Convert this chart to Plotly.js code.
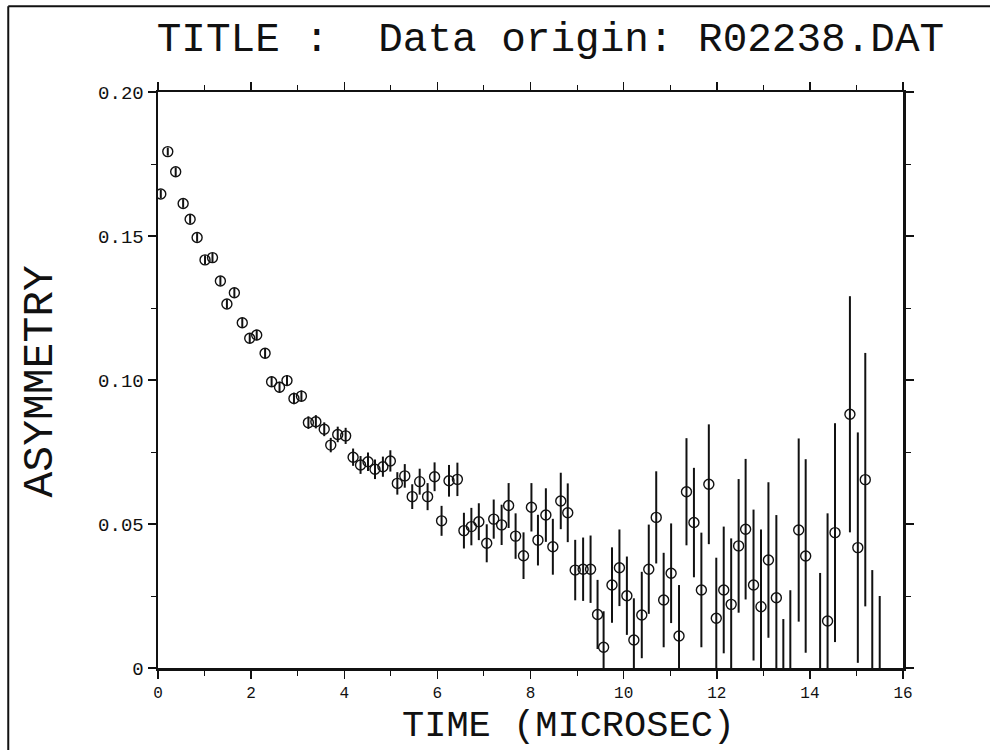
<!DOCTYPE html>
<html>
<head>
<meta charset="utf-8">
<script src="https://cdn.plot.ly/plotly-3.0.1.min.js"></script>
<style>
  html, body { margin: 0; padding: 0; background: #ffffff; }
  #chart { width: 990px; height: 750px; }
</style>
</head>
<body>
<div id="chart"></div>
<script>
// Time bins (microseconds)
var timeUs = [
  0.06, 0.21, 0.38, 0.54, 0.69, 0.84, 1.01, 1.17, 1.34, 1.48,
  1.64, 1.81, 1.97, 2.12, 2.30, 2.44, 2.61, 2.77, 2.92, 3.08,
  3.23, 3.39, 3.57, 3.71, 3.86, 4.03, 4.19, 4.35, 4.51, 4.66,
  4.83, 4.99, 5.14, 5.30, 5.46, 5.62, 5.79, 5.94, 6.09, 6.25,
  6.43, 6.57, 6.73, 6.89, 7.06, 7.21, 7.38, 7.53, 7.68, 7.85,
  8.02, 8.16, 8.33, 8.48, 8.65, 8.80, 8.96, 9.13, 9.29, 9.44,
  9.57, 9.75, 9.91, 10.07, 10.22, 10.39, 10.54, 10.70, 10.86, 11.02,
  11.19, 11.35, 11.51, 11.67, 11.83, 11.99, 12.15, 12.31, 12.47, 12.62,
  12.79, 12.95, 13.11, 13.28, 13.43, 13.58, 13.76, 13.91, 14.06, 14.22,
  14.38, 14.54, 14.70, 14.86, 15.03, 15.19, 15.34, 15.50
];

// Asymmetry values
var asymmetry = [
  0.1646, 0.1793, 0.1723, 0.1613, 0.1558, 0.1495, 0.1417, 0.1425, 0.1344, 0.1264,
  0.1303, 0.1199, 0.1145, 0.1156, 0.1093, 0.0994, 0.0975, 0.0998, 0.0936, 0.0944,
  0.0852, 0.0855, 0.0829, 0.0774, 0.0811, 0.0806, 0.0732, 0.0705, 0.0716, 0.0690,
  0.0699, 0.0719, 0.0641, 0.0667, 0.0595, 0.0647, 0.0595, 0.0664, 0.0511, 0.0650,
  0.0655, 0.0477, 0.0491, 0.0508, 0.0433, 0.0517, 0.0497, 0.0564, 0.0458, 0.0390,
  0.0558, 0.0444, 0.0531, 0.0421, 0.0580, 0.0539, 0.0340, 0.0343, 0.0343, 0.0186,
  0.0072, 0.0288, 0.0348, 0.0251, 0.0097, 0.0184, 0.0343, 0.0523, 0.0236, 0.0329,
  0.0111, 0.0612, 0.0505, 0.0271, 0.0638, 0.0173, 0.0271, 0.0221, 0.0424, 0.0482,
  0.0288, 0.0213, 0.0375, 0.0244, -0.0120, -0.0030, 0.0479, 0.0389, -0.0400, -0.0020,
  0.0163, 0.0470, -0.0450, 0.0881, 0.0418, 0.0654, -0.0100, -0.0200
];

// Error bar half-lengths
var asymErr = [
  0.0014, 0.0014, 0.0015, 0.0015, 0.0015, 0.0015, 0.0016, 0.0016, 0.0016, 0.0016,
  0.0017, 0.0017, 0.0017, 0.0018, 0.0018, 0.0018, 0.0019, 0.0019, 0.0020, 0.0020,
  0.0022, 0.0023, 0.0024, 0.0025, 0.0027, 0.0028, 0.0030, 0.0031, 0.0032, 0.0034,
  0.0035, 0.0037, 0.0039, 0.0041, 0.0043, 0.0045, 0.0047, 0.0050, 0.0052, 0.0055,
  0.0058, 0.0062, 0.0065, 0.0064, 0.0066, 0.0068, 0.0070, 0.0078, 0.0079, 0.0081,
  0.0084, 0.0088, 0.0093, 0.0097, 0.0098, 0.0102, 0.0105, 0.0110, 0.0117, 0.0120,
  0.0125, 0.0131, 0.0133, 0.0136, 0.0145, 0.0150, 0.0155, 0.0160, 0.0164, 0.0173,
  0.0177, 0.0186, 0.0190, 0.0199, 0.0208, 0.0210, 0.0220, 0.0229, 0.0232, 0.0244,
  0.0262, 0.0268, 0.0270, 0.0287, 0.0290, 0.0300, 0.0318, 0.0336, 0.0340, 0.0350,
  0.0374, 0.0380, 0.0390, 0.0410, 0.0400, 0.0440, 0.0440, 0.0450
];

var xTickVals = [0, 2, 4, 6, 8, 10, 12, 14, 16];
var xTickText = ['0', '2', '4', '6', '8', '10', '12', '14', '16'];
var yTickVals = [0, 0.05, 0.10, 0.15, 0.20];
var yTickText = ['0', '0.05', '0.10', '0.15', '0.20'];

var titleText = 'TITLE :\u00a0\u00a0Data origin: R02238.DAT';
var xTitleText = 'TIME (MICROSEC)';
var yTitleText = 'ASYMMETRY';

var mono = 'Liberation Mono, DejaVu Sans Mono, monospace';

var trace = {
  type: 'scatter',
  mode: 'markers',
  x: timeUs,
  y: asymmetry,
  marker: {
    symbol: 'circle-open',
    size: 10,
    color: '#111111',
    line: { width: 1.4, color: '#111111' }
  },
  error_y: {
    type: 'data',
    array: asymErr,
    visible: true,
    color: '#111111',
    thickness: 2,
    width: 0
  },
  cliponaxis: true,
  hoverinfo: 'x+y'
};

var axisCommon = {
  showline: true,
  linewidth: 2.5,
  linecolor: '#111111',
  mirror: 'ticks',
  ticks: 'outside',
  ticklen: 8,
  tickwidth: 1.5,
  tickcolor: '#111111',
  showgrid: false,
  zeroline: false,
  fixedrange: true
};

var layout = {
  width: 990,
  height: 750,
  paper_bgcolor: '#ffffff',
  plot_bgcolor: '#ffffff',
  showlegend: false,
  margin: { l: 158, r: 87, t: 92, b: 82 },
  title: {
    text: titleText,
    font: { family: mono, size: 41, color: '#111111' },
    xref: 'container', yref: 'container',
    x: 0.556, xanchor: 'center',
    y: 0.951, yanchor: 'middle'
  },
  xaxis: Object.assign({}, axisCommon, {
    range: [0, 16],
    tickmode: 'array',
    tickvals: xTickVals,
    ticktext: xTickText,
    tickfont: { family: mono, size: 16, color: '#111111' },
    minor: { dtick: 1, tick0: 0, ticks: 'outside', ticklen: 5, tickwidth: 1, tickcolor: '#111111', showgrid: false }
  }),
  yaxis: Object.assign({}, axisCommon, {
    range: [0, 0.2],
    tickmode: 'array',
    tickvals: yTickVals,
    ticktext: yTickText,
    tickfont: { family: mono, size: 19, color: '#111111' },
    minor: { dtick: 0.025, tick0: 0, ticks: 'outside', ticklen: 5, tickwidth: 1, tickcolor: '#111111', showgrid: false }
  }),
  annotations: [
    {
      text: xTitleText, xref: 'paper', yref: 'paper',
      x: 0.551, y: -0.101, xanchor: 'center', yanchor: 'middle',
      showarrow: false,
      font: { family: mono, size: 37, color: '#111111' }
    },
    {
      text: yTitleText, xref: 'paper', yref: 'paper',
      x: -0.158, y: 0.498, xanchor: 'center', yanchor: 'middle',
      textangle: -90, showarrow: false,
      font: { family: mono, size: 43, color: '#111111' }
    }
  ],
  shapes: [
    { type: 'line', xref: 'paper', yref: 'paper', x0: -0.201, x1: -0.201, y0: -0.15, y1: 1.149,
      line: { color: '#111111', width: 2 } },
    { type: 'line', xref: 'paper', yref: 'paper', x0: -0.201, x1: 1.12, y0: 1.149, y1: 1.149,
      line: { color: '#111111', width: 2 } }
  ]
};

Plotly.newPlot('chart', [trace], layout, { displayModeBar: false, staticPlot: true });
</script>
</body>
</html>
